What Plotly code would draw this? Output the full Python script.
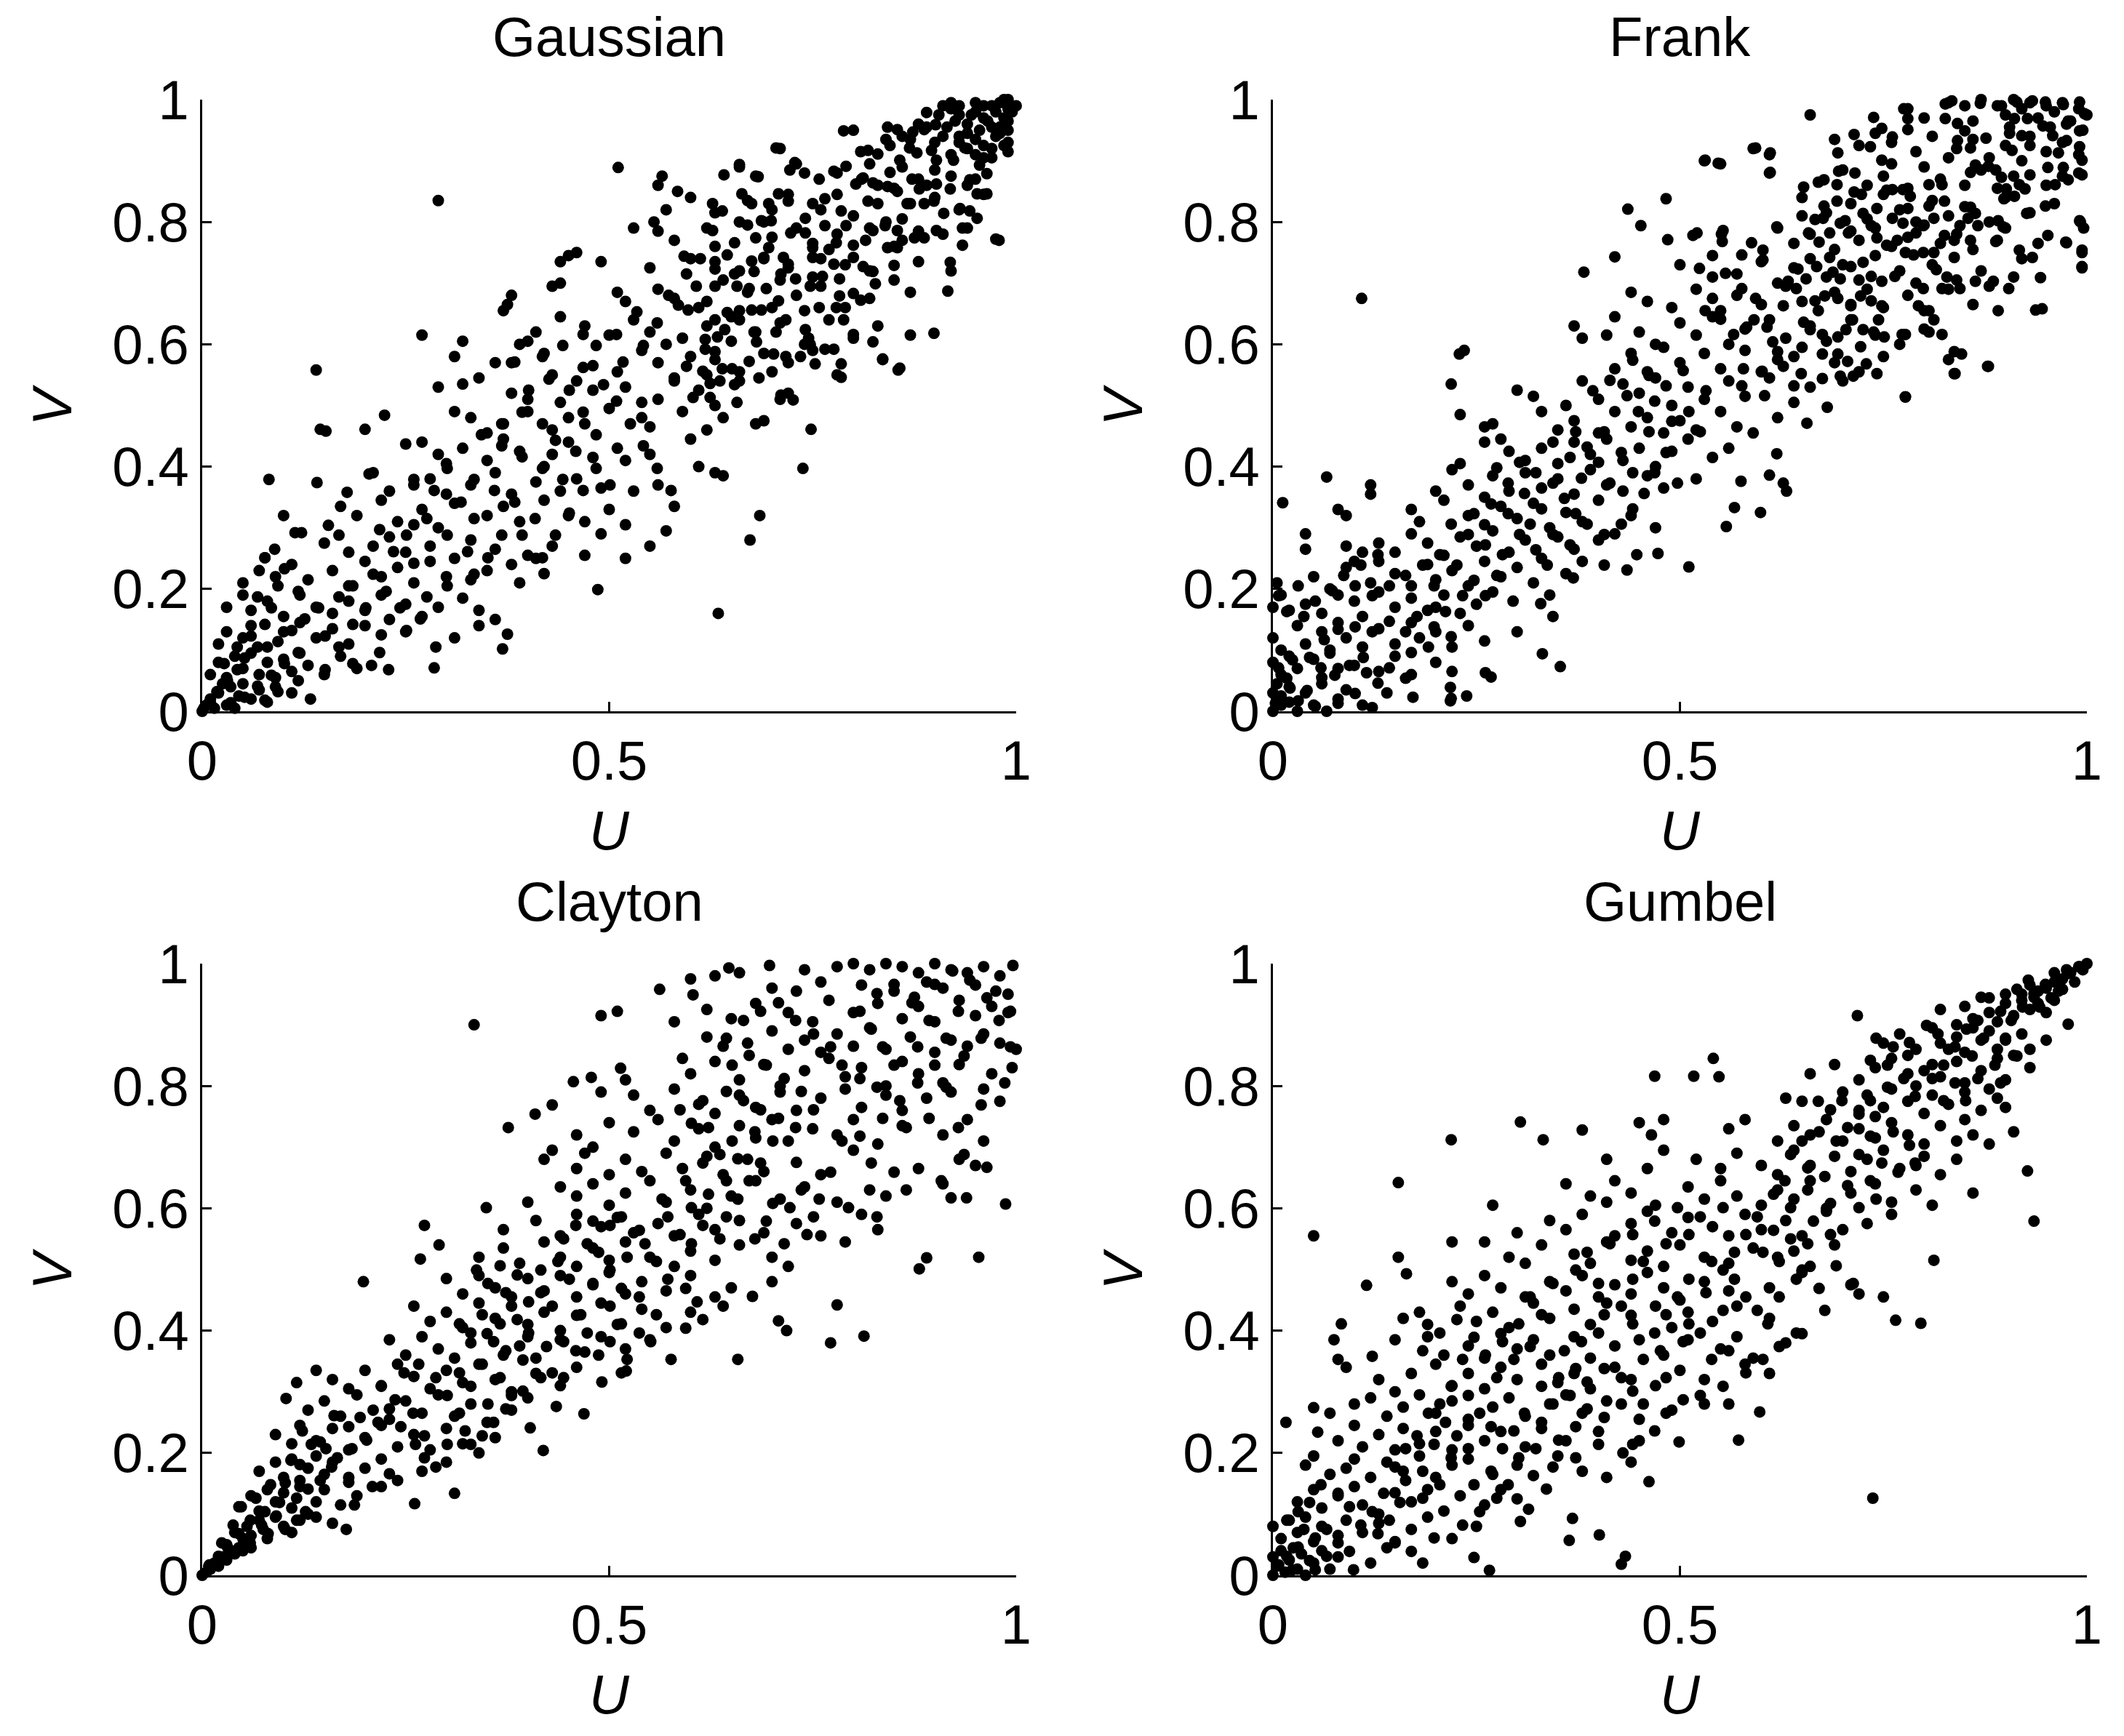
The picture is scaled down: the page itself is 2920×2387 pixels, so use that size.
import plotly.graph_objects as go

# copula samples, (U, V) pairs
titles = ["Gaussian", "Frank", "Clayton", "Gumbel"]
x_ticks = [0, 0.5, 1]
x_tick_labels = ["0", "0.5", "1"]
y_ticks = [0, 0.2, 0.4, 0.6, 0.8, 1]
y_tick_labels = ["0", "0.2", "0.4", "0.6", "0.8", "1"]

gaussian = [
    (0.91, 0.99), (0.92, 0.985), (0.95, 0.98), (0.97, 0.99), (0.98, 0.995), (0.99, 1.0), (1.0, 0.99), (0.96, 0.97),
    (0.985, 0.97), (0.94, 0.96), (0.97, 0.955), (0.99, 0.965), (0.88, 0.96), (0.89, 0.955), (0.995, 0.98), (0.93, 0.975),
    (0.80, 0.95), (0.86, 0.94), (0.87, 0.935), (0.84, 0.935), (0.90, 0.93), (0.93, 0.93), (0.95, 0.935), (0.98, 0.945),
    (0.97, 0.92), (0.99, 0.93), (0.92, 0.91), (0.96, 0.905), (0.71, 0.92), (0.91, 0.94),
    (0.511, 0.889), (0.66, 0.89), (0.73, 0.895), (0.74, 0.88), (0.78, 0.88), (0.81, 0.87), (0.82, 0.895), (0.86, 0.89),
    (0.88, 0.87), (0.89, 0.86), (0.92, 0.875), (0.94, 0.86), (0.95, 0.87), (0.85, 0.855), (0.90, 0.885), (0.83, 0.86),
    (0.56, 0.86), (0.565, 0.875), (0.68, 0.875),
    (0.29, 0.835), (0.57, 0.82), (0.60, 0.84), (0.63, 0.815), (0.67, 0.835), (0.70, 0.82), (0.72, 0.845), (0.75, 0.83),
    (0.76, 0.82), (0.78, 0.845), (0.80, 0.81), (0.83, 0.83), (0.87, 0.83), (0.90, 0.84), (0.93, 0.82), (0.96, 0.845),
    (0.86, 0.805), (0.69, 0.80), (0.84, 0.80), (0.555, 0.80),
    (0.53, 0.79), (0.56, 0.785), (0.58, 0.77), (0.62, 0.79), (0.67, 0.795), (0.70, 0.775), (0.73, 0.79), (0.75, 0.765),
    (0.78, 0.78), (0.82, 0.79), (0.86, 0.77), (0.88, 0.785), (0.91, 0.78), (0.94, 0.79), (0.975, 0.772), (0.77, 0.755),
    (0.85, 0.76), (0.63, 0.76),
    (0.45, 0.745), (0.46, 0.75), (0.44, 0.735), (0.49, 0.735), (0.55, 0.725), (0.60, 0.74), (0.63, 0.735), (0.66, 0.72),
    (0.69, 0.74), (0.72, 0.725), (0.76, 0.74), (0.79, 0.73), (0.82, 0.72), (0.85, 0.705), (0.88, 0.735), (0.92, 0.72),
    (0.71, 0.705), (0.75, 0.71), (0.64, 0.705),
    (0.43, 0.695), (0.44, 0.70), (0.37, 0.655), (0.375, 0.665), (0.38, 0.68), (0.51, 0.685), (0.52, 0.67), (0.56, 0.69),
    (0.58, 0.675), (0.61, 0.66), (0.63, 0.695), (0.67, 0.685), (0.70, 0.66), (0.73, 0.68), (0.76, 0.695), (0.79, 0.66),
    (0.82, 0.675), (0.87, 0.685), (0.74, 0.655), (0.66, 0.655), (0.62, 0.67),
    (0.27, 0.615), (0.32, 0.605), (0.39, 0.60), (0.40, 0.605), (0.41, 0.62), (0.44, 0.645), (0.47, 0.63), (0.50, 0.615),
    (0.53, 0.64), (0.55, 0.62), (0.57, 0.60), (0.59, 0.61), (0.62, 0.63), (0.65, 0.645), (0.68, 0.62), (0.71, 0.635),
    (0.745, 0.61), (0.77, 0.64), (0.80, 0.61), (0.83, 0.63), (0.87, 0.615), (0.74, 0.60), (0.65, 0.605),
    (0.14, 0.558), (0.31, 0.58), (0.36, 0.57), (0.38, 0.57), (0.42, 0.585), (0.43, 0.55), (0.48, 0.565), (0.51, 0.555),
    (0.54, 0.59), (0.56, 0.57), (0.60, 0.58), (0.63, 0.575), (0.66, 0.555), (0.69, 0.585), (0.72, 0.57), (0.75, 0.59),
    (0.78, 0.55), (0.836, 0.575), (0.855, 0.558), (0.62, 0.55), (0.70, 0.555),
    (0.29, 0.53), (0.32, 0.535), (0.34, 0.545), (0.38, 0.52), (0.40, 0.51), (0.46, 0.54), (0.48, 0.525), (0.52, 0.53),
    (0.56, 0.51), (0.58, 0.545), (0.61, 0.525), (0.63, 0.50), (0.66, 0.54), (0.71, 0.51), (0.72, 0.52), (0.44, 0.505),
    (0.54, 0.505),
    (0.145, 0.461), (0.152, 0.458), (0.20, 0.461), (0.224, 0.484), (0.31, 0.49), (0.33, 0.48), (0.37, 0.47), (0.40, 0.49),
    (0.43, 0.46), (0.45, 0.48), (0.47, 0.47), (0.50, 0.495), (0.54, 0.48), (0.55, 0.465), (0.59, 0.49), (0.62, 0.46),
    (0.64, 0.48), (0.68, 0.47), (0.69, 0.475), (0.748, 0.461), (0.35, 0.455),
    (0.25, 0.437), (0.27, 0.44), (0.29, 0.42), (0.32, 0.43), (0.35, 0.41), (0.37, 0.445), (0.39, 0.425), (0.42, 0.40),
    (0.43, 0.42), (0.45, 0.44), (0.48, 0.415), (0.51, 0.43), (0.52, 0.41), (0.55, 0.42), (0.60, 0.445), (0.61, 0.40),
    (0.30, 0.405),
    (0.082, 0.379), (0.141, 0.374), (0.205, 0.388), (0.21, 0.39), (0.23, 0.36), (0.26, 0.37), (0.28, 0.38), (0.30, 0.355),
    (0.33, 0.37), (0.36, 0.39), (0.38, 0.355), (0.41, 0.375), (0.44, 0.36), (0.46, 0.38), (0.49, 0.365), (0.53, 0.36),
    (0.56, 0.37), (0.63, 0.39), (0.64, 0.385), (0.738, 0.397), (0.178, 0.358),
    (0.100, 0.320), (0.155, 0.304), (0.17, 0.335), (0.19, 0.32), (0.22, 0.345), (0.24, 0.31), (0.27, 0.33), (0.29, 0.30),
    (0.31, 0.34), (0.35, 0.32), (0.37, 0.335), (0.39, 0.31), (0.42, 0.345), (0.45, 0.32), (0.47, 0.31), (0.50, 0.33),
    (0.52, 0.305), (0.58, 0.335), (0.685, 0.32), (0.26, 0.305),
    (0.077, 0.251), (0.089, 0.265), (0.114, 0.292), (0.122, 0.292), (0.168, 0.288), (0.15, 0.275), (0.18, 0.26), (0.21, 0.27),
    (0.23, 0.285), (0.25, 0.26), (0.28, 0.27), (0.31, 0.25), (0.33, 0.28), (0.36, 0.265), (0.40, 0.255), (0.43, 0.27),
    (0.47, 0.255), (0.49, 0.29), (0.52, 0.25), (0.55, 0.27), (0.673, 0.28), (0.57, 0.295),
    (0.05, 0.21), (0.07, 0.23), (0.09, 0.22), (0.11, 0.24), (0.13, 0.215), (0.16, 0.23), (0.18, 0.205), (0.20, 0.245),
    (0.22, 0.22), (0.24, 0.235), (0.26, 0.21), (0.28, 0.245), (0.30, 0.22), (0.33, 0.215), (0.35, 0.23), (0.38, 0.24),
    (0.39, 0.21), (0.41, 0.25), (0.486, 0.199), (0.42, 0.225),
    (0.03, 0.17), (0.05, 0.19), (0.06, 0.165), (0.08, 0.18), (0.10, 0.155), (0.12, 0.19), (0.14, 0.17), (0.16, 0.16),
    (0.18, 0.18), (0.20, 0.165), (0.22, 0.19), (0.25, 0.175), (0.27, 0.155), (0.29, 0.17), (0.32, 0.185), (0.34, 0.165),
    (0.36, 0.15), (0.634, 0.160), (0.23, 0.15),
    (0.02, 0.11), (0.03, 0.13), (0.05, 0.12), (0.06, 0.14), (0.08, 0.105), (0.10, 0.13), (0.12, 0.145), (0.14, 0.12),
    (0.16, 0.135), (0.18, 0.11), (0.20, 0.14), (0.22, 0.125), (0.25, 0.13), (0.287, 0.105), (0.31, 0.12), (0.369, 0.102),
    (0.375, 0.126), (0.34, 0.14),
    (0.01, 0.06), (0.02, 0.08), (0.03, 0.055), (0.04, 0.09), (0.05, 0.07), (0.06, 0.095), (0.07, 0.06), (0.08, 0.08),
    (0.09, 0.055), (0.10, 0.085), (0.11, 0.065), (0.13, 0.075), (0.15, 0.06), (0.17, 0.09), (0.208, 0.075), (0.229, 0.068),
    (0.285, 0.071), (0.12, 0.095), (0.19, 0.07),
    (0.0, 0.0), (0.005, 0.01), (0.01, 0.02), (0.015, 0.005), (0.02, 0.03), (0.03, 0.01), (0.035, 0.04), (0.045, 0.025),
    (0.05, 0.045), (0.06, 0.02), (0.07, 0.035), (0.08, 0.015), (0.09, 0.04), (0.11, 0.03), (0.133, 0.02), (0.025, 0.045),
    (0.04, 0.005),
]

# closer reading of the upper-right half of the Gaussian panel
gaussian_upper = [
    (0.93, 0.99), (0.95, 0.995), (0.96, 0.99), (0.975, 0.98), (0.99, 0.985), (0.945, 0.975), (0.965, 0.965), (0.98, 0.955),
    (0.925, 0.965), (0.94, 0.945), (0.955, 0.95), (0.975, 0.94), (0.99, 0.95), (0.915, 0.955), (0.93, 0.94), (0.96, 0.925),
    (0.985, 0.925), (0.95, 0.91), (0.97, 0.905), (0.99, 0.915), (0.94, 0.92), (0.905, 0.975), (0.92, 0.995), (0.985, 1.0),
    (0.89, 0.979), (0.842, 0.955), (0.854, 0.951), (0.873, 0.947), (0.887, 0.951), (0.901, 0.959), (0.788, 0.949),
    (0.705, 0.921), (0.660, 0.894), (0.641, 0.877), (0.683, 0.874), (0.584, 0.850), (0.728, 0.897), (0.722, 0.885),
    (0.776, 0.883), (0.791, 0.891), (0.758, 0.870), (0.809, 0.915), (0.818, 0.917), (0.830, 0.911), (0.845, 0.925),
    (0.857, 0.901), (0.869, 0.921), (0.878, 0.913), (0.896, 0.917), (0.902, 0.901), (0.923, 0.901), (0.937, 0.921),
    (0.955, 0.893), (0.964, 0.879), (0.943, 0.869), (0.952, 0.846), (0.964, 0.846), (0.919, 0.854), (0.902, 0.862),
    (0.881, 0.854), (0.872, 0.870), (0.845, 0.881), (0.842, 0.858), (0.854, 0.850), (0.818, 0.834), (0.803, 0.862),
    (0.812, 0.872), (0.824, 0.864), (0.866, 0.830), (0.887, 0.830), (0.899, 0.834), (0.911, 0.814), (0.931, 0.822),
    (0.943, 0.818), (0.952, 0.806), (0.934, 0.790), (0.934, 0.762), (0.979, 0.770), (0.919, 0.734), (0.916, 0.687),
    (0.899, 0.618), (0.854, 0.786), (0.839, 0.794), (0.824, 0.786), (0.815, 0.770), (0.875, 0.774), (0.887, 0.774),
    (0.902, 0.786), (0.842, 0.758), (0.854, 0.758), (0.850, 0.729), (0.800, 0.762), (0.800, 0.742), (0.779, 0.766),
    (0.776, 0.731), (0.750, 0.758), (0.750, 0.742), (0.765, 0.794), (0.791, 0.794), (0.785, 0.818), (0.765, 0.838),
    (0.741, 0.806), (0.741, 0.782), (0.723, 0.782), (0.720, 0.834), (0.708, 0.846), (0.696, 0.830), (0.687, 0.802),
    (0.699, 0.802), (0.663, 0.846), (0.675, 0.830), (0.627, 0.830), (0.639, 0.818), (0.627, 0.786), (0.660, 0.800),
    (0.680, 0.774), (0.696, 0.758), (0.654, 0.766), (0.645, 0.746), (0.612, 0.740), (0.592, 0.744), (0.675, 0.736),
    (0.690, 0.742), (0.714, 0.742), (0.720, 0.731), (0.711, 0.715), (0.678, 0.719), (0.654, 0.715), (0.630, 0.723),
    (0.607, 0.695), (0.595, 0.715), (0.573, 0.680), (0.585, 0.664), (0.597, 0.656), (0.630, 0.640), (0.645, 0.652),
    (0.660, 0.640), (0.675, 0.656), (0.687, 0.656), (0.708, 0.671), (0.693, 0.691), (0.672, 0.691), (0.657, 0.695),
    (0.729, 0.707), (0.747, 0.695), (0.762, 0.711), (0.783, 0.707), (0.783, 0.679), (0.800, 0.683), (0.809, 0.672),
    (0.824, 0.719), (0.827, 0.699), (0.812, 0.727), (0.758, 0.660), (0.779, 0.660), (0.788, 0.640), (0.800, 0.616),
    (0.824, 0.604), (0.836, 0.576), (0.857, 0.561), (0.741, 0.624), (0.717, 0.640), (0.705, 0.620), (0.678, 0.620),
    (0.642, 0.624), (0.633, 0.612), (0.618, 0.608), (0.681, 0.604), (0.747, 0.600), (0.765, 0.592), (0.776, 0.592),
    (0.735, 0.580), (0.753, 0.568), (0.785, 0.568), (0.785, 0.546), (0.702, 0.584), (0.717, 0.580), (0.672, 0.572),
    (0.684, 0.545), (0.639, 0.560), (0.651, 0.560), (0.615, 0.556), (0.624, 0.536), (0.636, 0.540), (0.654, 0.534),
    (0.595, 0.564), (0.580, 0.540), (0.618, 0.592), (0.630, 0.588), (0.603, 0.513), (0.624, 0.513), (0.711, 0.517),
    (0.726, 0.509), (0.657, 0.505),
]

# closer reading of the lower-left half of the Gaussian panel
gaussian_lower = [
    (0.010, 0.014), (0.018, 0.032), (0.031, 0.050), (0.043, 0.068), (0.027, 0.078), (0.052, 0.087), (0.068, 0.105),
    (0.043, 0.105), (0.060, 0.123), (0.077, 0.142), (0.052, 0.023), (0.068, 0.041), (0.085, 0.059), (0.101, 0.078),
    (0.118, 0.096), (0.093, 0.114), (0.110, 0.132), (0.126, 0.151), (0.143, 0.169), (0.085, 0.169), (0.068, 0.187),
    (0.093, 0.205), (0.101, 0.233), (0.077, 0.251), (0.118, 0.196), (0.151, 0.123), (0.168, 0.105), (0.185, 0.142),
    (0.201, 0.169), (0.168, 0.187), (0.185, 0.205), (0.210, 0.224), (0.226, 0.196), (0.243, 0.169), (0.251, 0.132),
    (0.268, 0.151), (0.276, 0.187), (0.301, 0.205), (0.260, 0.242), (0.235, 0.261), (0.218, 0.297), (0.251, 0.288),
    (0.276, 0.315), (0.301, 0.288), (0.326, 0.261), (0.334, 0.224), (0.351, 0.251), (0.368, 0.288), (0.334, 0.315),
    (0.318, 0.342), (0.285, 0.361), (0.260, 0.379), (0.301, 0.397), (0.334, 0.379), (0.359, 0.361), (0.384, 0.342),
    (0.409, 0.315), (0.393, 0.288), (0.418, 0.251), (0.434, 0.288), (0.451, 0.324), (0.468, 0.361), (0.443, 0.379),
    (0.418, 0.397), (0.393, 0.416), (0.368, 0.434), (0.343, 0.452), (0.368, 0.470), (0.393, 0.489), (0.418, 0.470),
    (0.434, 0.443), (0.459, 0.425), (0.484, 0.397), (0.501, 0.370), (0.484, 0.452), (0.468, 0.489), (0.451, 0.525),
    (0.426, 0.543), (0.401, 0.525), (0.384, 0.571), (0.418, 0.580), (0.443, 0.598), (0.468, 0.562), (0.493, 0.534),
    (0.509, 0.507), (0.526, 0.470), (0.542, 0.434), (0.559, 0.397), (0.576, 0.361), (0.517, 0.571), (0.542, 0.598),
    (0.559, 0.635), (0.534, 0.653), (0.509, 0.616), (0.484, 0.598), (0.468, 0.616), (0.151, 0.068), (0.185, 0.078),
    (0.218, 0.096), (0.118, 0.050), (0.093, 0.032), (0.077, 0.018), (0.035, 0.014), (0.002, 0.005),
]

frank = [
    (0.66, 0.975), (0.78, 0.985), (0.80, 0.97), (0.83, 0.995), (0.85, 0.99), (0.86, 0.965), (0.87, 1.0), (0.89, 0.99),
    (0.90, 0.975), (0.91, 1.0), (0.92, 0.985), (0.93, 0.995), (0.94, 0.97), (0.95, 0.99), (0.96, 0.98), (0.97, 0.995),
    (0.98, 0.965), (0.99, 0.985), (1.0, 0.975), (0.955, 0.955), (0.975, 0.96), (0.905, 0.955), (0.995, 0.95),
    (0.59, 0.92), (0.61, 0.91), (0.53, 0.90), (0.55, 0.895), (0.69, 0.935), (0.72, 0.925), (0.74, 0.945), (0.76, 0.93),
    (0.79, 0.915), (0.81, 0.94), (0.84, 0.92), (0.86, 0.935), (0.88, 0.905), (0.90, 0.925), (0.93, 0.94), (0.95, 0.915),
    (0.97, 0.93), (0.99, 0.91), (0.92, 0.90), (0.83, 0.905),
    (0.61, 0.88), (0.67, 0.865), (0.70, 0.885), (0.73, 0.86), (0.75, 0.875), (0.78, 0.855), (0.80, 0.89), (0.82, 0.87),
    (0.85, 0.86), (0.87, 0.885), (0.89, 0.855), (0.91, 0.875), (0.95, 0.86), (0.97, 0.875), (0.99, 0.88), (0.76, 0.895),
    (0.436, 0.821), (0.483, 0.838), (0.65, 0.84), (0.68, 0.815), (0.71, 0.83), (0.73, 0.805), (0.75, 0.845), (0.77, 0.82),
    (0.79, 0.80), (0.81, 0.835), (0.83, 0.81), (0.85, 0.825), (0.88, 0.80), (0.90, 0.84), (0.93, 0.815), (0.992, 0.80),
    (0.96, 0.83),
    (0.452, 0.794), (0.485, 0.771), (0.516, 0.778), (0.551, 0.780), (0.62, 0.79), (0.64, 0.765), (0.66, 0.78), (0.69, 0.755),
    (0.71, 0.785), (0.72, 0.77), (0.74, 0.79), (0.76, 0.76), (0.78, 0.775), (0.80, 0.795), (0.82, 0.765), (0.84, 0.78),
    (0.86, 0.755), (0.89, 0.77), (0.94, 0.765), (0.974, 0.767), (0.994, 0.75), (0.90, 0.79),
    (0.420, 0.743), (0.382, 0.718), (0.50, 0.73), (0.54, 0.745), (0.57, 0.715), (0.60, 0.735), (0.62, 0.70), (0.64, 0.725),
    (0.66, 0.74), (0.68, 0.71), (0.70, 0.73), (0.72, 0.705), (0.74, 0.745), (0.77, 0.72), (0.79, 0.70), (0.81, 0.73),
    (0.84, 0.705), (0.87, 0.72), (0.91, 0.71), (0.994, 0.725), (0.92, 0.74),
    (0.109, 0.675), (0.44, 0.685), (0.46, 0.67), (0.49, 0.66), (0.52, 0.69), (0.55, 0.655), (0.57, 0.68), (0.60, 0.665),
    (0.63, 0.695), (0.65, 0.67), (0.67, 0.655), (0.69, 0.685), (0.71, 0.665), (0.73, 0.69), (0.75, 0.66), (0.78, 0.68),
    (0.80, 0.655), (0.83, 0.69), (0.86, 0.665), (0.937, 0.656), (0.88, 0.695),
    (0.37, 0.63), (0.38, 0.61), (0.42, 0.645), (0.45, 0.62), (0.47, 0.60), (0.50, 0.635), (0.52, 0.615), (0.54, 0.645),
    (0.56, 0.60), (0.58, 0.625), (0.61, 0.64), (0.63, 0.61), (0.66, 0.63), (0.68, 0.605), (0.71, 0.64), (0.74, 0.615),
    (0.77, 0.60), (0.80, 0.625), (0.41, 0.615),
    (0.229, 0.584), (0.235, 0.59), (0.42, 0.56), (0.44, 0.585), (0.46, 0.555), (0.48, 0.595), (0.50, 0.57), (0.53, 0.585),
    (0.55, 0.56), (0.58, 0.59), (0.60, 0.555), (0.62, 0.575), (0.65, 0.595), (0.69, 0.57), (0.72, 0.555), (0.75, 0.58),
    (0.838, 0.552), (0.878, 0.564), (0.83, 0.575),
    (0.219, 0.535), (0.30, 0.525), (0.32, 0.515), (0.38, 0.54), (0.40, 0.51), (0.43, 0.535), (0.45, 0.52), (0.47, 0.545),
    (0.49, 0.50), (0.51, 0.53), (0.53, 0.51), (0.56, 0.54), (0.58, 0.515), (0.61, 0.545), (0.64, 0.505), (0.66, 0.53),
    (0.70, 0.54), (0.777, 0.514), (0.36, 0.50),
    (0.23, 0.485), (0.26, 0.465), (0.27, 0.47), (0.33, 0.49), (0.35, 0.46), (0.37, 0.475), (0.40, 0.455), (0.42, 0.49),
    (0.44, 0.465), (0.46, 0.48), (0.48, 0.455), (0.50, 0.475), (0.52, 0.46), (0.55, 0.49), (0.57, 0.465), (0.59, 0.455),
    (0.656, 0.471), (0.681, 0.497), (0.62, 0.48),
    (0.26, 0.44), (0.28, 0.445), (0.29, 0.425), (0.31, 0.41), (0.33, 0.43), (0.35, 0.405), (0.37, 0.44), (0.39, 0.42),
    (0.41, 0.445), (0.43, 0.41), (0.45, 0.43), (0.47, 0.40), (0.49, 0.425), (0.51, 0.445), (0.54, 0.415), (0.56, 0.43),
    (0.619, 0.421), (0.23, 0.405),
    (0.066, 0.383), (0.12, 0.37), (0.12, 0.355), (0.20, 0.36), (0.22, 0.395), (0.24, 0.37), (0.27, 0.385), (0.29, 0.36),
    (0.31, 0.39), (0.33, 0.365), (0.35, 0.38), (0.37, 0.355), (0.39, 0.395), (0.41, 0.37), (0.43, 0.36), (0.46, 0.385),
    (0.48, 0.365), (0.52, 0.38), (0.575, 0.376), (0.610, 0.386), (0.627, 0.373), (0.631, 0.360), (0.26, 0.35),
    (0.012, 0.341), (0.08, 0.33), (0.09, 0.32), (0.17, 0.33), (0.18, 0.31), (0.21, 0.345), (0.24, 0.32), (0.26, 0.305),
    (0.28, 0.335), (0.30, 0.315), (0.32, 0.34), (0.34, 0.30), (0.36, 0.325), (0.38, 0.31), (0.40, 0.345), (0.44, 0.32),
    (0.567, 0.333), (0.557, 0.302), (0.599, 0.325), (0.47, 0.30),
    (0.04, 0.29), (0.04, 0.265), (0.09, 0.27), (0.11, 0.26), (0.13, 0.275), (0.15, 0.26), (0.17, 0.29), (0.19, 0.275),
    (0.21, 0.255), (0.23, 0.285), (0.25, 0.27), (0.27, 0.295), (0.29, 0.26), (0.31, 0.28), (0.33, 0.25), (0.35, 0.285),
    (0.37, 0.265), (0.40, 0.28), (0.473, 0.258), (0.447, 0.256), (0.42, 0.29),
    (0.005, 0.21), (0.01, 0.19), (0.05, 0.22), (0.07, 0.2), (0.09, 0.235), (0.10, 0.245), (0.12, 0.21), (0.13, 0.245),
    (0.15, 0.225), (0.17, 0.205), (0.19, 0.24), (0.20, 0.215), (0.22, 0.23), (0.24, 0.205), (0.26, 0.245), (0.28, 0.22),
    (0.30, 0.235), (0.32, 0.21), (0.36, 0.225), (0.407, 0.239), (0.435, 0.231), (0.511, 0.236), (0.369, 0.218), (0.38, 0.245),
    (0.0, 0.17), (0.02, 0.165), (0.04, 0.175), (0.06, 0.16), (0.08, 0.19), (0.10, 0.18), (0.11, 0.155), (0.13, 0.195),
    (0.15, 0.17), (0.17, 0.185), (0.19, 0.165), (0.21, 0.19), (0.23, 0.16), (0.25, 0.175), (0.27, 0.195), (0.295, 0.18),
    (0.329, 0.176), (0.344, 0.155), (0.34, 0.19), (0.20, 0.17),
    (0.0, 0.12), (0.01, 0.1), (0.03, 0.14), (0.04, 0.11), (0.06, 0.13), (0.08, 0.145), (0.09, 0.12), (0.11, 0.105),
    (0.13, 0.135), (0.15, 0.11), (0.17, 0.145), (0.18, 0.12), (0.20, 0.13), (0.22, 0.105), (0.24, 0.14), (0.26, 0.115),
    (0.30, 0.13), (0.07, 0.10),
    (0.0, 0.08), (0.01, 0.06), (0.02, 0.09), (0.03, 0.07), (0.05, 0.085), (0.06, 0.055), (0.07, 0.095), (0.08, 0.07),
    (0.10, 0.075), (0.111, 0.088), (0.13, 0.065), (0.15, 0.09), (0.17, 0.06), (0.20, 0.08), (0.268, 0.056), (0.331, 0.094),
    (0.353, 0.073), (0.22, 0.065),
    (0.0, 0.0), (0.0, 0.03), (0.01, 0.01), (0.02, 0.04), (0.02, 0.015), (0.03, 0.0), (0.04, 0.03), (0.05, 0.01),
    (0.06, 0.045), (0.066, 0.0), (0.08, 0.02), (0.09, 0.035), (0.11, 0.01), (0.122, 0.006), (0.172, 0.023), (0.218, 0.017),
    (0.218, 0.039), (0.238, 0.025), (0.14, 0.03), (0.005, 0.045),
]

# closer reading of the upper-right part of the Frank panel
frank_upper = [
    (0.738, 0.971), (0.748, 0.953), (0.761, 0.939), (0.714, 0.943), (0.734, 0.923), (0.748, 0.901), (0.694, 0.913),
    (0.695, 0.883), (0.715, 0.880), (0.593, 0.921), (0.611, 0.913), (0.611, 0.881), (0.531, 0.901), (0.547, 0.896),
    (0.775, 0.985), (0.780, 0.969), (0.780, 0.951), (0.826, 0.993), (0.834, 0.998), (0.826, 0.969), (0.841, 0.961),
    (0.850, 0.949), (0.841, 0.933), (0.869, 0.994), (0.857, 0.921), (0.876, 0.937), (0.895, 0.990), (0.914, 0.996),
    (0.933, 0.998), (0.949, 0.996), (0.911, 0.969), (0.927, 0.969), (0.905, 0.945), (0.920, 0.941), (0.930, 0.925),
    (0.908, 0.917), (0.946, 0.957), (0.958, 0.941), (0.971, 0.992), (0.991, 0.996), (0.997, 0.977), (0.977, 0.965),
    (0.991, 0.949), (0.975, 0.933), (0.991, 0.923), (0.965, 0.913), (0.994, 0.901), (0.952, 0.889), (0.971, 0.889),
    (0.994, 0.877), (0.961, 0.861), (0.977, 0.869), (0.930, 0.877), (0.917, 0.861), (0.895, 0.873), (0.888, 0.885),
    (0.879, 0.891), (0.863, 0.893), (0.857, 0.881), (0.901, 0.854), (0.898, 0.838), (0.911, 0.842), (0.924, 0.854),
    (0.949, 0.826), (0.926, 0.814), (0.991, 0.802), (0.996, 0.790), (0.952, 0.778), (0.975, 0.766), (0.994, 0.754),
    (0.994, 0.727), (0.943, 0.709), (0.933, 0.742), (0.917, 0.754), (0.891, 0.802), (0.897, 0.792), (0.888, 0.768),
    (0.904, 0.691), (0.945, 0.658), (0.891, 0.655), (0.879, 0.564), (0.837, 0.588), (0.846, 0.584), (0.837, 0.552),
    (0.857, 0.824), (0.863, 0.814), (0.854, 0.806), (0.844, 0.794), (0.866, 0.794), (0.837, 0.770), (0.857, 0.770),
    (0.837, 0.742), (0.825, 0.778), (0.812, 0.750), (0.825, 0.834), (0.822, 0.861), (0.806, 0.861), (0.806, 0.826),
    (0.812, 0.806), (0.799, 0.794), (0.790, 0.782), (0.774, 0.798), (0.761, 0.806), (0.742, 0.822), (0.725, 0.814),
    (0.735, 0.794), (0.742, 0.774), (0.754, 0.762), (0.767, 0.770), (0.777, 0.750), (0.787, 0.746), (0.799, 0.750),
    (0.815, 0.722), (0.828, 0.710), (0.844, 0.691), (0.863, 0.703), (0.885, 0.703), (0.799, 0.691), (0.822, 0.691),
    (0.793, 0.663), (0.806, 0.655), (0.812, 0.640), (0.806, 0.620), (0.822, 0.616), (0.777, 0.616), (0.774, 0.853),
    (0.783, 0.842), (0.780, 0.822), (0.761, 0.853), (0.754, 0.852), (0.693, 0.861), (0.693, 0.834), (0.677, 0.869),
    (0.677, 0.826), (0.652, 0.857), (0.650, 0.810), (0.666, 0.804), (0.676, 0.806), (0.703, 0.802), (0.707, 0.782),
    (0.714, 0.849), (0.723, 0.845), (0.619, 0.792), (0.553, 0.786), (0.552, 0.768), (0.521, 0.782), (0.576, 0.746),
    (0.588, 0.766), (0.602, 0.754), (0.602, 0.738), (0.524, 0.724), (0.540, 0.710), (0.556, 0.716), (0.540, 0.675),
    (0.576, 0.691), (0.593, 0.675), (0.531, 0.655), (0.550, 0.641), (0.566, 0.616), (0.582, 0.628), (0.591, 0.640),
    (0.607, 0.628), (0.614, 0.604), (0.620, 0.588), (0.627, 0.564), (0.640, 0.580), (0.652, 0.636), (0.660, 0.624),
    (0.675, 0.616), (0.675, 0.584), (0.694, 0.584), (0.706, 0.572), (0.694, 0.612), (0.704, 0.624), (0.712, 0.640),
    (0.725, 0.624), (0.722, 0.596), (0.738, 0.620), (0.751, 0.612), (0.744, 0.640), (0.773, 0.616), (0.729, 0.568),
    (0.742, 0.552), (0.697, 0.548), (0.713, 0.548), (0.675, 0.544), (0.649, 0.552), (0.640, 0.532), (0.601, 0.556),
    (0.578, 0.560), (0.576, 0.532), (0.604, 0.516), (0.777, 0.514), (0.627, 0.663), (0.633, 0.703), (0.645, 0.723),
    (0.655, 0.707), (0.668, 0.727), (0.684, 0.742), (0.688, 0.718), (0.697, 0.707), (0.710, 0.727), (0.725, 0.734),
    (0.735, 0.711), (0.748, 0.703), (0.764, 0.711), (0.722, 0.679), (0.735, 0.671), (0.748, 0.663), (0.710, 0.663),
    (0.694, 0.675), (0.678, 0.679), (0.666, 0.671), (0.643, 0.691), (0.671, 0.767), (0.658, 0.782), (0.684, 0.782),
    (0.697, 0.798),
]

# closer reading of the lower-left part of the Frank panel
frank_lower = [
    (0.003, 0.013), (0.010, 0.025), (0.021, 0.038), (0.031, 0.017), (0.042, 0.034), (0.017, 0.054), (0.007, 0.071),
    (0.024, 0.084), (0.045, 0.088), (0.059, 0.071), (0.076, 0.059), (0.094, 0.075), (0.115, 0.063), (0.129, 0.046),
    (0.143, 0.071), (0.163, 0.054), (0.101, 0.029), (0.080, 0.013), (0.052, 0.008), (0.063, 0.117), (0.080, 0.134),
    (0.101, 0.138), (0.122, 0.130), (0.143, 0.147), (0.163, 0.130), (0.177, 0.155), (0.198, 0.138), (0.212, 0.163),
    (0.219, 0.122), (0.191, 0.105), (0.170, 0.096), (0.038, 0.155), (0.017, 0.163), (0.007, 0.189), (0.031, 0.205),
    (0.052, 0.180), (0.073, 0.197), (0.087, 0.222), (0.108, 0.239), (0.129, 0.256), (0.101, 0.205), (0.122, 0.189),
    (0.143, 0.205), (0.163, 0.222), (0.184, 0.239), (0.205, 0.256), (0.226, 0.239), (0.247, 0.214), (0.261, 0.189),
    (0.233, 0.189), (0.275, 0.222), (0.282, 0.256), (0.261, 0.272), (0.240, 0.289), (0.219, 0.306), (0.247, 0.323),
    (0.268, 0.339), (0.289, 0.323), (0.303, 0.289), (0.316, 0.306), (0.330, 0.331), (0.309, 0.356), (0.289, 0.373),
    (0.275, 0.398), (0.303, 0.407), (0.323, 0.390), (0.344, 0.373), (0.358, 0.348), (0.372, 0.323), (0.386, 0.306),
    (0.344, 0.289), (0.365, 0.272), (0.323, 0.264), (0.337, 0.239), (0.379, 0.381), (0.400, 0.407), (0.386, 0.432),
    (0.365, 0.415), (0.344, 0.440), (0.372, 0.457), (0.407, 0.457), (0.428, 0.423), (0.414, 0.373), (0.442, 0.390),
    (0.456, 0.356), (0.442, 0.331), (0.428, 0.306), (0.407, 0.289), (0.469, 0.390), (0.483, 0.423), (0.497, 0.373),
    (0.462, 0.457), (0.449, 0.490), (0.435, 0.516), (0.469, 0.507), (0.490, 0.474), (0.483, 0.532), (0.511, 0.490),
    (0.525, 0.457), (0.532, 0.524), (0.504, 0.557), (0.462, 0.549), (0.442, 0.574), (0.414, 0.541), (0.393, 0.524),
    (0.198, 0.205), (0.219, 0.021), (0.261, 0.063),
]

clayton = [
    (0.647, 0.993), (0.66, 0.985), (0.697, 0.997), (0.74, 0.99), (0.78, 0.995), (0.80, 1.0), (0.82, 0.99), (0.84, 1.0),
    (0.86, 0.995), (0.88, 0.985), (0.90, 1.0), (0.92, 0.99), (0.94, 0.985), (0.96, 0.995), (0.98, 0.98), (0.996, 0.997),
    (0.562, 0.958), (0.603, 0.949), (0.70, 0.96), (0.73, 0.955), (0.76, 0.97), (0.81, 0.965), (0.85, 0.955), (0.89, 0.97),
    (0.91, 0.96), (0.95, 0.965), (0.975, 0.955), (0.99, 0.95), (0.63, 0.98), (0.60, 0.975),
    (0.334, 0.900), (0.490, 0.915), (0.510, 0.922), (0.58, 0.905), (0.62, 0.925), (0.65, 0.91), (0.68, 0.935), (0.72, 0.92),
    (0.75, 0.905), (0.77, 0.94), (0.80, 0.92), (0.83, 0.935), (0.86, 0.91), (0.88, 0.93), (0.90, 0.905), (0.93, 0.94),
    (0.95, 0.915), (0.97, 0.93), (0.99, 0.92), (0.875, 0.945),
    (0.62, 0.88), (0.64, 0.865), (0.67, 0.87), (0.70, 0.89), (0.72, 0.86), (0.74, 0.875), (0.76, 0.855), (0.78, 0.885),
    (0.80, 0.865), (0.82, 0.895), (0.84, 0.86), (0.87, 0.88), (0.90, 0.855), (0.92, 0.875), (0.94, 0.865), (0.96, 0.885),
    (0.98, 0.87), (1.0, 0.86),
    (0.456, 0.807), (0.478, 0.814), (0.514, 0.829), (0.52, 0.81), (0.59, 0.845), (0.60, 0.82), (0.63, 0.84), (0.66, 0.81),
    (0.69, 0.835), (0.71, 0.80), (0.74, 0.825), (0.77, 0.845), (0.79, 0.815), (0.81, 0.83), (0.84, 0.80), (0.86, 0.84),
    (0.88, 0.82), (0.91, 0.805), (0.93, 0.835), (0.97, 0.82), (0.995, 0.83),
    (0.409, 0.754), (0.430, 0.769), (0.49, 0.79), (0.53, 0.785), (0.55, 0.76), (0.58, 0.795), (0.61, 0.77), (0.63, 0.755),
    (0.66, 0.785), (0.68, 0.765), (0.71, 0.79), (0.73, 0.76), (0.76, 0.78), (0.79, 0.795), (0.81, 0.765), (0.84, 0.785),
    (0.86, 0.76), (0.89, 0.78), (0.92, 0.79), (0.96, 0.795), (0.98, 0.775),
    (0.376, 0.732), (0.46, 0.72), (0.48, 0.70), (0.50, 0.74), (0.53, 0.725), (0.56, 0.745), (0.58, 0.71), (0.61, 0.73),
    (0.63, 0.70), (0.66, 0.735), (0.68, 0.715), (0.70, 0.745), (0.72, 0.71), (0.75, 0.73), (0.78, 0.72), (0.80, 0.745),
    (0.83, 0.705), (0.86, 0.735), (0.91, 0.72), (0.94, 0.745), (0.96, 0.71),
    (0.42, 0.68), (0.43, 0.695), (0.46, 0.665), (0.47, 0.69), (0.50, 0.655), (0.52, 0.68), (0.54, 0.66), (0.57, 0.69),
    (0.59, 0.665), (0.62, 0.685), (0.64, 0.655), (0.67, 0.68), (0.69, 0.66), (0.73, 0.675), (0.76, 0.655), (0.80, 0.695),
    (0.88, 0.665), (0.95, 0.67), (0.93, 0.68),
    (0.349, 0.601), (0.40, 0.61), (0.44, 0.635), (0.46, 0.62), (0.48, 0.64), (0.50, 0.605), (0.52, 0.625), (0.55, 0.645),
    (0.57, 0.61), (0.60, 0.63), (0.62, 0.60), (0.65, 0.62), (0.68, 0.645), (0.71, 0.615), (0.74, 0.635), (0.78, 0.61),
    (0.82, 0.63), (0.84, 0.62), (0.939, 0.617), (0.987, 0.607), (0.91, 0.64), (0.92, 0.617),
    (0.273, 0.572), (0.37, 0.565), (0.41, 0.58), (0.44, 0.555), (0.46, 0.59), (0.49, 0.57), (0.51, 0.585), (0.53, 0.56),
    (0.56, 0.575), (0.58, 0.555), (0.61, 0.59), (0.63, 0.565), (0.66, 0.58), (0.69, 0.56), (0.73, 0.575), (0.76, 0.555),
    (0.83, 0.565), (0.81, 0.59),
    (0.291, 0.540), (0.268, 0.517), (0.34, 0.52), (0.37, 0.535), (0.39, 0.51), (0.42, 0.545), (0.44, 0.52), (0.46, 0.505),
    (0.48, 0.535), (0.50, 0.515), (0.52, 0.545), (0.55, 0.52), (0.58, 0.505), (0.60, 0.53), (0.63, 0.515), (0.66, 0.54),
    (0.70, 0.52), (0.72, 0.505), (0.79, 0.545), (0.881, 0.501), (0.890, 0.519), (0.954, 0.520),
    (0.198, 0.480), (0.30, 0.485), (0.32, 0.46), (0.34, 0.49), (0.36, 0.47), (0.38, 0.455), (0.40, 0.485), (0.42, 0.465),
    (0.44, 0.49), (0.46, 0.455), (0.48, 0.475), (0.50, 0.495), (0.52, 0.46), (0.54, 0.48), (0.57, 0.465), (0.60, 0.49),
    (0.63, 0.455), (0.676, 0.456), (0.70, 0.48), (0.65, 0.47),
    (0.26, 0.44), (0.28, 0.415), (0.30, 0.43), (0.32, 0.405), (0.34, 0.445), (0.36, 0.42), (0.38, 0.44), (0.40, 0.41),
    (0.42, 0.43), (0.44, 0.40), (0.46, 0.425), (0.49, 0.445), (0.51, 0.41), (0.54, 0.435), (0.57, 0.405), (0.60, 0.43),
    (0.708, 0.416), (0.718, 0.400), (0.780, 0.442), (0.64, 0.44),
    (0.23, 0.385), (0.25, 0.36), (0.27, 0.39), (0.29, 0.37), (0.31, 0.355), (0.33, 0.38), (0.35, 0.395), (0.37, 0.36),
    (0.39, 0.375), (0.41, 0.355), (0.44, 0.385), (0.47, 0.365), (0.49, 0.39), (0.52, 0.37), (0.55, 0.385), (0.576, 0.353),
    (0.658, 0.353), (0.772, 0.380), (0.813, 0.391), (0.40, 0.39),
    (0.16, 0.32), (0.18, 0.305), (0.20, 0.335), (0.22, 0.31), (0.24, 0.345), (0.26, 0.325), (0.28, 0.305), (0.30, 0.335),
    (0.32, 0.315), (0.34, 0.345), (0.36, 0.32), (0.38, 0.30), (0.41, 0.33), (0.44, 0.31), (0.46, 0.34), (0.491, 0.316),
    (0.521, 0.334), (0.116, 0.315), (0.14, 0.335),
    (0.103, 0.289), (0.13, 0.27), (0.15, 0.285), (0.17, 0.26), (0.19, 0.295), (0.21, 0.27), (0.23, 0.255), (0.25, 0.285),
    (0.27, 0.265), (0.29, 0.295), (0.31, 0.26), (0.33, 0.28), (0.35, 0.25), (0.38, 0.27), (0.435, 0.276), (0.469, 0.264),
    (0.40, 0.29),
    (0.09, 0.23), (0.11, 0.215), (0.12, 0.245), (0.14, 0.22), (0.16, 0.24), (0.18, 0.205), (0.20, 0.225), (0.22, 0.245),
    (0.24, 0.21), (0.26, 0.23), (0.28, 0.205), (0.30, 0.24), (0.32, 0.215), (0.36, 0.225), (0.403, 0.241), (0.419, 0.204),
    (0.34, 0.2),
    (0.07, 0.17), (0.09, 0.185), (0.10, 0.16), (0.11, 0.19), (0.12, 0.155), (0.13, 0.175), (0.14, 0.195), (0.15, 0.165),
    (0.16, 0.185), (0.18, 0.16), (0.20, 0.175), (0.22, 0.19), (0.24, 0.155), (0.27, 0.17), (0.30, 0.185),
    (0.048, 0.112), (0.06, 0.13), (0.07, 0.105), (0.08, 0.14), (0.09, 0.12), (0.10, 0.135), (0.11, 0.11), (0.12, 0.145),
    (0.14, 0.12), (0.15, 0.14), (0.17, 0.115), (0.19, 0.13), (0.22, 0.145), (0.261, 0.117), (0.310, 0.134), (0.13, 0.10),
    (0.03, 0.05), (0.04, 0.07), (0.05, 0.06), (0.055, 0.08), (0.06, 0.065), (0.07, 0.09), (0.075, 0.075), (0.08, 0.06),
    (0.09, 0.095), (0.10, 0.08), (0.11, 0.07), (0.12, 0.09), (0.14, 0.095), (0.177, 0.075), (0.16, 0.085),
    (0.0, 0.0), (0.005, 0.005), (0.01, 0.01), (0.015, 0.02), (0.02, 0.015), (0.025, 0.03), (0.03, 0.025), (0.035, 0.04),
    (0.04, 0.035), (0.045, 0.045), (0.05, 0.04), (0.06, 0.045), (0.02, 0.025), (0.008, 0.015),
]

# closer reading of the Clayton panel
clayton_extra = [
    (0.045, 0.112), (0.066, 0.126), (0.084, 0.148), (0.102, 0.151), (0.109, 0.188), (0.120, 0.181), (0.123, 0.236),
    (0.134, 0.214), (0.145, 0.218), (0.152, 0.207), (0.159, 0.177), (0.145, 0.155), (0.130, 0.141), (0.116, 0.126),
    (0.095, 0.119), (0.077, 0.104), (0.059, 0.090), (0.045, 0.068), (0.031, 0.046), (0.020, 0.031), (0.009, 0.017),
    (0.024, 0.053), (0.038, 0.082), (0.073, 0.082), (0.091, 0.097), (0.127, 0.104), (0.116, 0.090), (0.102, 0.075),
    (0.081, 0.068), (0.059, 0.053), (0.048, 0.046), (0.187, 0.115), (0.209, 0.145), (0.230, 0.166), (0.180, 0.152),
    (0.166, 0.192), (0.184, 0.207), (0.202, 0.221), (0.180, 0.243), (0.162, 0.261), (0.194, 0.258), (0.216, 0.250),
    (0.230, 0.272), (0.244, 0.243), (0.262, 0.214), (0.273, 0.192), (0.287, 0.177), (0.273, 0.228), (0.259, 0.265),
    (0.237, 0.287), (0.220, 0.309), (0.248, 0.331), (0.266, 0.345), (0.287, 0.323), (0.301, 0.294), (0.316, 0.265),
    (0.323, 0.236), (0.301, 0.214), (0.330, 0.214), (0.344, 0.228), (0.358, 0.250), (0.351, 0.280), (0.330, 0.309),
    (0.316, 0.331), (0.344, 0.345), (0.366, 0.323), (0.380, 0.294), (0.373, 0.272), (0.394, 0.301), (0.416, 0.323),
    (0.430, 0.331), (0.444, 0.323), (0.394, 0.352), (0.373, 0.367), (0.358, 0.382), (0.330, 0.396), (0.316, 0.411),
    (0.344, 0.426), (0.366, 0.411), (0.387, 0.418), (0.401, 0.396), (0.423, 0.374), (0.444, 0.382), (0.459, 0.367),
    (0.473, 0.396), (0.465, 0.426), (0.430, 0.440), (0.416, 0.462), (0.401, 0.447), (0.373, 0.462), (0.351, 0.477),
    (0.337, 0.499), (0.366, 0.506), (0.387, 0.491), (0.416, 0.499), (0.437, 0.513), (0.451, 0.484), (0.480, 0.477),
    (0.501, 0.499), (0.522, 0.520), (0.487, 0.528), (0.473, 0.542), (0.444, 0.550), (0.459, 0.572), (0.480, 0.579),
    (0.501, 0.572), (0.515, 0.586), (0.537, 0.564), (0.544, 0.542), (0.558, 0.513), (0.572, 0.484), (0.594, 0.469),
    (0.608, 0.447), (0.615, 0.418), (0.594, 0.404), (0.558, 0.426), (0.537, 0.455), (0.515, 0.469), (0.501, 0.440),
    (0.515, 0.411), (0.537, 0.396), (0.551, 0.382), (0.501, 0.382), (0.487, 0.360), (0.522, 0.353), (0.515, 0.331),
    (0.565, 0.615), (0.572, 0.586), (0.587, 0.557), (0.601, 0.542), (0.615, 0.572), (0.636, 0.550), (0.644, 0.586),
    (0.658, 0.615), (0.672, 0.645), (0.644, 0.645), (0.622, 0.623), (0.601, 0.601), (0.594, 0.645), (0.615, 0.674),
    (0.636, 0.688), (0.658, 0.681), (0.686, 0.674), (0.701, 0.710), (0.679, 0.725), (0.651, 0.710), (0.622, 0.732),
    (0.601, 0.739), (0.587, 0.761), (0.615, 0.776), (0.644, 0.791), (0.665, 0.776), (0.686, 0.761), (0.708, 0.747),
    (0.729, 0.732), (0.751, 0.761), (0.736, 0.791), (0.715, 0.812), (0.693, 0.834), (0.672, 0.850), (0.651, 0.834),
    (0.644, 0.878), (0.665, 0.907), (0.686, 0.922), (0.708, 0.936), (0.729, 0.907), (0.751, 0.885), (0.772, 0.864),
    (0.786, 0.834), (0.808, 0.812), (0.829, 0.798), (0.850, 0.834), (0.836, 0.864), (0.822, 0.893), (0.808, 0.922),
    (0.829, 0.951), (0.850, 0.966), (0.872, 0.936), (0.893, 0.907), (0.914, 0.878), (0.936, 0.849), (0.957, 0.878),
    (0.979, 0.907), (0.964, 0.944), (0.943, 0.973), (0.922, 0.988), (0.900, 0.966), (0.929, 0.922), (0.879, 0.864),
    (0.900, 0.834), (0.914, 0.798), (0.879, 0.805), (0.857, 0.776), (0.836, 0.747), (0.865, 0.732), (0.893, 0.747),
    (0.929, 0.732), (0.957, 0.769), (0.986, 0.805), (0.993, 0.864), (0.993, 0.922), (0.786, 0.710), (0.808, 0.718),
    (0.822, 0.674), (0.772, 0.659), (0.736, 0.630), (0.722, 0.601), (0.751, 0.586), (0.743, 0.557), (0.715, 0.542),
    (0.693, 0.579), (0.701, 0.608), (0.679, 0.550), (0.758, 0.615), (0.794, 0.601), (0.829, 0.586), (0.865, 0.630),
    (0.850, 0.659), (0.908, 0.645), (0.936, 0.688), (0.964, 0.667),
]

gumbel = [
    (0.99, 0.995), (1.0, 1.0), (0.98, 0.985), (0.97, 0.975), (0.96, 0.97), (0.975, 0.99), (0.95, 0.96), (0.985, 0.97),
    (0.94, 0.955), (0.96, 0.985), (0.93, 0.965), (0.995, 0.99), (0.92, 0.95), (0.965, 0.955),
    (0.718, 0.915), (0.85, 0.93), (0.87, 0.945), (0.88, 0.92), (0.90, 0.935), (0.91, 0.915), (0.92, 0.94), (0.93, 0.925),
    (0.94, 0.935), (0.95, 0.92), (0.96, 0.94), (0.89, 0.905), (0.86, 0.91), (0.977, 0.901), (0.82, 0.925), (0.84, 0.9),
    (0.90, 0.95), (0.935, 0.945),
    (0.75, 0.87), (0.77, 0.885), (0.79, 0.86), (0.81, 0.895), (0.82, 0.87), (0.84, 0.88), (0.85, 0.855), (0.87, 0.875),
    (0.88, 0.89), (0.89, 0.86), (0.90, 0.875), (0.92, 0.885), (0.93, 0.86), (0.95, 0.875), (0.91, 0.85), (0.83, 0.86),
    (0.78, 0.85), (0.86, 0.895),
    (0.469, 0.816), (0.517, 0.816), (0.548, 0.815), (0.541, 0.845), (0.66, 0.82), (0.69, 0.835), (0.72, 0.81), (0.74, 0.83),
    (0.76, 0.845), (0.78, 0.82), (0.79, 0.80), (0.81, 0.835), (0.82, 0.815), (0.84, 0.84), (0.85, 0.805), (0.87, 0.825),
    (0.89, 0.845), (0.90, 0.81), (0.93, 0.83), (0.80, 0.825),
    (0.63, 0.78), (0.65, 0.775), (0.67, 0.775), (0.70, 0.79), (0.72, 0.76), (0.73, 0.785), (0.75, 0.765), (0.76, 0.795),
    (0.78, 0.775), (0.80, 0.755), (0.81, 0.785), (0.83, 0.77), (0.85, 0.79), (0.87, 0.76), (0.89, 0.78), (0.90, 0.765),
    (0.74, 0.75), (0.88, 0.795),
    (0.219, 0.712), (0.304, 0.741), (0.332, 0.712), (0.380, 0.728), (0.45, 0.74), (0.465, 0.72), (0.48, 0.745), (0.56, 0.73),
    (0.58, 0.745), (0.62, 0.71), (0.64, 0.735), (0.66, 0.72), (0.68, 0.745), (0.70, 0.71), (0.72, 0.73), (0.74, 0.715),
    (0.76, 0.74), (0.78, 0.72), (0.80, 0.705), (0.82, 0.735), (0.84, 0.71), (0.86, 0.72), (0.88, 0.705), (0.91, 0.725),
    (0.85, 0.745),
    (0.41, 0.68), (0.46, 0.665), (0.48, 0.695), (0.52, 0.68), (0.55, 0.665), (0.57, 0.69), (0.60, 0.67), (0.62, 0.655),
    (0.64, 0.695), (0.66, 0.67), (0.69, 0.685), (0.71, 0.66), (0.73, 0.68), (0.75, 0.695), (0.77, 0.665), (0.80, 0.685),
    (0.82, 0.655), (0.927, 0.661), (0.79, 0.67), (0.84, 0.68),
    (0.154, 0.642), (0.27, 0.605), (0.36, 0.64), (0.39, 0.62), (0.41, 0.61), (0.42, 0.645), (0.44, 0.625), (0.47, 0.605),
    (0.51, 0.635), (0.53, 0.615), (0.55, 0.645), (0.57, 0.62), (0.60, 0.605), (0.62, 0.63), (0.64, 0.615), (0.66, 0.645),
    (0.68, 0.60), (0.71, 0.625), (0.74, 0.64), (0.76, 0.61), (0.79, 0.63), (0.81, 0.605), (0.86, 0.625),
    (0.050, 0.555), (0.30, 0.56), (0.34, 0.58), (0.36, 0.565), (0.38, 0.59), (0.42, 0.555), (0.44, 0.575), (0.46, 0.595),
    (0.49, 0.56), (0.51, 0.585), (0.54, 0.57), (0.56, 0.555), (0.58, 0.59), (0.60, 0.565), (0.63, 0.58), (0.65, 0.555),
    (0.68, 0.595), (0.70, 0.565), (0.73, 0.575), (0.935, 0.579), (0.76, 0.59),
    (0.154, 0.520), (0.22, 0.545), (0.26, 0.545), (0.29, 0.52), (0.31, 0.51), (0.33, 0.54), (0.37, 0.525), (0.39, 0.51),
    (0.41, 0.545), (0.44, 0.515), (0.46, 0.53), (0.48, 0.505), (0.50, 0.54), (0.53, 0.52), (0.56, 0.51), (0.59, 0.535),
    (0.62, 0.52), (0.66, 0.505), (0.69, 0.54), (0.812, 0.515), (0.64, 0.53),
    (0.115, 0.474), (0.164, 0.493), (0.22, 0.48), (0.24, 0.46), (0.26, 0.49), (0.28, 0.47), (0.31, 0.455), (0.34, 0.48),
    (0.36, 0.465), (0.38, 0.49), (0.40, 0.455), (0.42, 0.475), (0.44, 0.46), (0.46, 0.495), (0.48, 0.47), (0.50, 0.45),
    (0.53, 0.48), (0.56, 0.465), (0.61, 0.47), (0.65, 0.495), (0.71, 0.475), (0.72, 0.46), (0.75, 0.455),
    (0.084, 0.411), (0.16, 0.42), (0.18, 0.43), (0.19, 0.41), (0.23, 0.44), (0.25, 0.415), (0.27, 0.43), (0.29, 0.405),
    (0.32, 0.445), (0.34, 0.42), (0.37, 0.435), (0.39, 0.41), (0.41, 0.445), (0.44, 0.425), (0.47, 0.44), (0.49, 0.405),
    (0.51, 0.43), (0.54, 0.415), (0.57, 0.44), (0.61, 0.42), (0.678, 0.433), (0.765, 0.417), (0.796, 0.412),
    (0.075, 0.385), (0.080, 0.353), (0.122, 0.358), (0.15, 0.385), (0.19, 0.39), (0.21, 0.36), (0.24, 0.375), (0.26, 0.355),
    (0.28, 0.395), (0.30, 0.37), (0.32, 0.385), (0.34, 0.36), (0.37, 0.39), (0.39, 0.355), (0.42, 0.375), (0.45, 0.385),
    (0.48, 0.36), (0.51, 0.385), (0.55, 0.37), (0.59, 0.355), (0.63, 0.38), (0.65, 0.395), (0.57, 0.39),
    (0.09, 0.34), (0.13, 0.32), (0.15, 0.30), (0.17, 0.33), (0.20, 0.345), (0.22, 0.31), (0.24, 0.33), (0.26, 0.305),
    (0.28, 0.34), (0.30, 0.32), (0.33, 0.345), (0.35, 0.315), (0.37, 0.33), (0.39, 0.305), (0.42, 0.34), (0.44, 0.32),
    (0.47, 0.31), (0.50, 0.335), (0.53, 0.32), (0.58, 0.345), (0.61, 0.33),
    (0.016, 0.250), (0.050, 0.274), (0.07, 0.265), (0.10, 0.28), (0.12, 0.29), (0.14, 0.26), (0.16, 0.275), (0.18, 0.295),
    (0.20, 0.265), (0.22, 0.285), (0.24, 0.255), (0.27, 0.275), (0.29, 0.29), (0.31, 0.26), (0.34, 0.28), (0.36, 0.295),
    (0.38, 0.265), (0.41, 0.285), (0.45, 0.255), (0.49, 0.27), (0.53, 0.28), (0.598, 0.267), (0.56, 0.28),
    (0.055, 0.234), (0.08, 0.22), (0.10, 0.245), (0.11, 0.21), (0.13, 0.23), (0.15, 0.205), (0.16, 0.24), (0.18, 0.215),
    (0.20, 0.235), (0.22, 0.205), (0.24, 0.245), (0.26, 0.22), (0.28, 0.235), (0.31, 0.21), (0.33, 0.24), (0.36, 0.22),
    (0.40, 0.235), (0.45, 0.22), (0.499, 0.218), (0.572, 0.221), (0.43, 0.2),
    (0.04, 0.18), (0.05, 0.195), (0.07, 0.165), (0.09, 0.175), (0.10, 0.19), (0.12, 0.16), (0.14, 0.185), (0.16, 0.17),
    (0.18, 0.195), (0.20, 0.16), (0.22, 0.18), (0.24, 0.19), (0.27, 0.165), (0.30, 0.18), (0.35, 0.195), (0.38, 0.17),
    (0.41, 0.16), (0.462, 0.153), (0.44, 0.185),
    (0.03, 0.12), (0.05, 0.14), (0.06, 0.11), (0.08, 0.13), (0.10, 0.145), (0.11, 0.115), (0.13, 0.10), (0.15, 0.135),
    (0.17, 0.12), (0.19, 0.14), (0.21, 0.105), (0.23, 0.13), (0.26, 0.115), (0.28, 0.14), (0.336, 0.141), (0.314, 0.108),
    (0.30, 0.125), (0.737, 0.126),
    (0.0, 0.08), (0.01, 0.06), (0.02, 0.09), (0.03, 0.07), (0.04, 0.095), (0.05, 0.055), (0.06, 0.08), (0.08, 0.065),
    (0.09, 0.09), (0.11, 0.07), (0.13, 0.085), (0.15, 0.055), (0.17, 0.075), (0.19, 0.095), (0.22, 0.06), (0.304, 0.088),
    (0.364, 0.057), (0.368, 0.093), (0.401, 0.066), (0.25, 0.08),
    (0.0, 0.0), (0.0, 0.03), (0.005, 0.015), (0.01, 0.04), (0.015, 0.005), (0.02, 0.025), (0.03, 0.01), (0.035, 0.035),
    (0.04, 0.0), (0.05, 0.02), (0.06, 0.04), (0.07, 0.01), (0.08, 0.03), (0.099, 0.009), (0.12, 0.02), (0.184, 0.020),
    (0.247, 0.029), (0.266, 0.008), (0.428, 0.018), (0.433, 0.031), (0.025, 0.045), (0.14, 0.045),
]

# closer reading of the Gumbel panel
gumbel_extra = [
    (0.991, 0.995), (0.977, 0.984), (0.963, 0.973), (0.949, 0.966), (0.935, 0.951), (0.970, 0.958), (0.956, 0.944),
    (0.942, 0.929), (0.928, 0.973), (0.914, 0.958), (0.921, 0.929), (0.907, 0.907), (0.894, 0.922), (0.880, 0.944),
    (0.866, 0.907), (0.852, 0.893), (0.873, 0.878), (0.900, 0.878), (0.914, 0.849), (0.887, 0.834), (0.859, 0.849),
    (0.838, 0.864), (0.817, 0.885), (0.803, 0.899), (0.824, 0.834), (0.810, 0.812), (0.838, 0.805), (0.866, 0.812),
    (0.894, 0.805), (0.851, 0.776), (0.824, 0.776), (0.789, 0.783), (0.775, 0.812), (0.755, 0.834), (0.734, 0.842),
    (0.762, 0.864), (0.782, 0.871), (0.741, 0.878), (0.755, 0.798), (0.734, 0.776), (0.720, 0.754), (0.699, 0.776),
    (0.685, 0.761), (0.706, 0.732), (0.734, 0.718), (0.762, 0.725), (0.782, 0.703), (0.789, 0.674), (0.768, 0.659),
    (0.748, 0.674), (0.720, 0.688), (0.692, 0.710), (0.671, 0.725), (0.650, 0.710), (0.636, 0.688), (0.657, 0.666),
    (0.678, 0.652), (0.706, 0.637), (0.734, 0.645), (0.741, 0.615), (0.720, 0.601), (0.685, 0.608), (0.657, 0.630),
    (0.629, 0.645), (0.615, 0.623), (0.636, 0.601), (0.664, 0.579), (0.685, 0.557), (0.657, 0.542), (0.636, 0.550),
    (0.615, 0.564), (0.595, 0.586), (0.581, 0.557), (0.602, 0.528), (0.622, 0.513), (0.650, 0.499), (0.692, 0.506),
    (0.713, 0.477), (0.567, 0.528), (0.553, 0.499), (0.539, 0.513), (0.567, 0.484), (0.581, 0.455), (0.553, 0.433),
    (0.532, 0.462), (0.511, 0.484), (0.497, 0.455), (0.483, 0.426), (0.511, 0.411), (0.525, 0.396), (0.504, 0.382),
    (0.476, 0.367), (0.455, 0.353), (0.469, 0.396), (0.442, 0.411), (0.428, 0.440), (0.407, 0.426), (0.400, 0.396),
    (0.379, 0.382), (0.358, 0.367), (0.372, 0.338), (0.351, 0.323), (0.330, 0.309), (0.344, 0.280), (0.365, 0.294),
    (0.386, 0.316), (0.407, 0.338), (0.428, 0.323), (0.442, 0.301), (0.455, 0.280), (0.428, 0.280), (0.407, 0.258),
    (0.386, 0.272), (0.372, 0.243), (0.351, 0.221), (0.330, 0.250), (0.309, 0.265), (0.296, 0.236), (0.282, 0.207),
    (0.302, 0.192), (0.323, 0.207), (0.268, 0.243), (0.254, 0.265), (0.240, 0.294), (0.219, 0.309), (0.205, 0.280),
    (0.191, 0.265), (0.212, 0.250), (0.226, 0.228), (0.240, 0.207), (0.219, 0.192), (0.198, 0.214), (0.177, 0.228),
    (0.163, 0.207), (0.150, 0.177), (0.163, 0.155), (0.184, 0.170), (0.205, 0.148), (0.184, 0.126), (0.156, 0.119),
    (0.136, 0.134), (0.122, 0.104), (0.143, 0.090), (0.129, 0.068), (0.108, 0.082), (0.094, 0.112), (0.080, 0.134),
    (0.059, 0.148), (0.045, 0.119), (0.031, 0.104), (0.017, 0.090), (0.038, 0.075), (0.052, 0.061), (0.066, 0.075),
    (0.080, 0.053), (0.094, 0.039), (0.066, 0.031), (0.045, 0.024), (0.031, 0.046), (0.017, 0.031), (0.007, 0.017),
    (0.024, 0.009), (0.052, 0.009), (0.150, 0.053), (0.170, 0.039), (0.198, 0.061), (0.233, 0.082), (0.254, 0.104),
    (0.275, 0.126), (0.247, 0.148), (0.268, 0.170), (0.289, 0.148), (0.320, 0.163), (0.344, 0.177), (0.372, 0.192),
    (0.400, 0.214), (0.442, 0.214), (0.469, 0.236), (0.483, 0.265), (0.504, 0.287), (0.525, 0.294), (0.553, 0.309),
    (0.581, 0.331), (0.602, 0.353), (0.622, 0.374), (0.643, 0.396), (0.608, 0.411), (0.595, 0.433), (0.622, 0.455),
    (0.643, 0.484), (0.671, 0.469), (0.539, 0.353), (0.560, 0.367), (0.483, 0.323), (0.442, 0.484), (0.455, 0.513),
    (0.483, 0.542), (0.511, 0.557), (0.525, 0.586), (0.553, 0.601), (0.497, 0.601), (0.469, 0.579), (0.442, 0.557),
    (0.414, 0.542), (0.386, 0.528), (0.372, 0.499), (0.400, 0.477), (0.344, 0.477), (0.316, 0.455), (0.330, 0.426),
    (0.302, 0.411), (0.282, 0.382), (0.261, 0.360), (0.247, 0.389), (0.226, 0.418), (0.205, 0.396), (0.184, 0.367),
    (0.233, 0.353), (0.275, 0.323), (0.296, 0.353), (0.316, 0.374),
]

samples = [
    gaussian + gaussian_upper + gaussian_lower,
    frank + frank_upper + frank_lower,
    clayton + clayton_extra,
    gumbel + gumbel_extra,
]

W, H = 2920, 2387
OFF = 8  # page body margin in the browser
FONT = "Liberation Sans, Arial, sans-serif"
FS = 76

# axes boxes in screen pixels: (left, right) and (top, bottom)
cols = [(278, 1397), (1750, 2869)]
rows = [(137, 978), (1325, 2166)]


def px(v):
    return (v - OFF) / W


def py(v):
    return 1 - (v - OFF) / H


fig = go.Figure()
annotations = []

for i, pts in enumerate(samples):
    r, c = divmod(i, 2)
    x0, x1 = cols[c]
    y0, y1 = rows[r]
    sfx = "" if i == 0 else str(i + 1)

    fig.add_trace(go.Scatter(
        x=[p[0] for p in pts],
        y=[p[1] for p in pts],
        mode="markers",
        marker=dict(color="black", size=16, line=dict(width=0)),
        cliponaxis=False,
        showlegend=False,
        xaxis="x" + sfx,
        yaxis="y" + sfx,
    ))

    common = dict(
        range=[0, 1], showline=True, linecolor="black", linewidth=3,
        ticks="inside", ticklen=13, tickwidth=3, tickcolor="black",
        showgrid=False, zeroline=False, mirror=False, automargin=False,
        tickfont=dict(family=FONT, size=FS, color="black"),
    )
    fig.layout["xaxis" + sfx] = dict(
        common, domain=[px(x0), px(x1)], anchor="y" + sfx,
        tickvals=x_ticks, ticktext=x_tick_labels,
    )
    fig.layout["yaxis" + sfx] = dict(
        common, domain=[py(y1), py(y0)], anchor="x" + sfx,
        tickvals=y_ticks, ticktext=y_tick_labels,
    )

    xc = px((x0 + x1) / 2)
    annotations.append(dict(
        text=titles[i], x=xc, y=py(y0 - 86), xref="paper", yref="paper",
        showarrow=False, xanchor="center", yanchor="middle",
        font=dict(family=FONT, size=FS, color="black"),
    ))
    annotations.append(dict(
        text="<i>U</i>", x=xc, y=py(y1 + 163), xref="paper", yref="paper",
        showarrow=False, xanchor="center", yanchor="middle",
        font=dict(family=FONT, size=FS, color="black"),
    ))
    annotations.append(dict(
        text="<i>V</i>", x=px(x0 - 207), y=py((y0 + y1) / 2), xref="paper", yref="paper",
        showarrow=False, xanchor="center", yanchor="middle", textangle=-90,
        font=dict(family=FONT, size=FS, color="black"),
    ))

fig.update_layout(
    width=W, height=H,
    margin=dict(l=0, r=0, t=0, b=0),
    paper_bgcolor="white", plot_bgcolor="white",
    annotations=annotations,
)

fig.write_html("out.html")
